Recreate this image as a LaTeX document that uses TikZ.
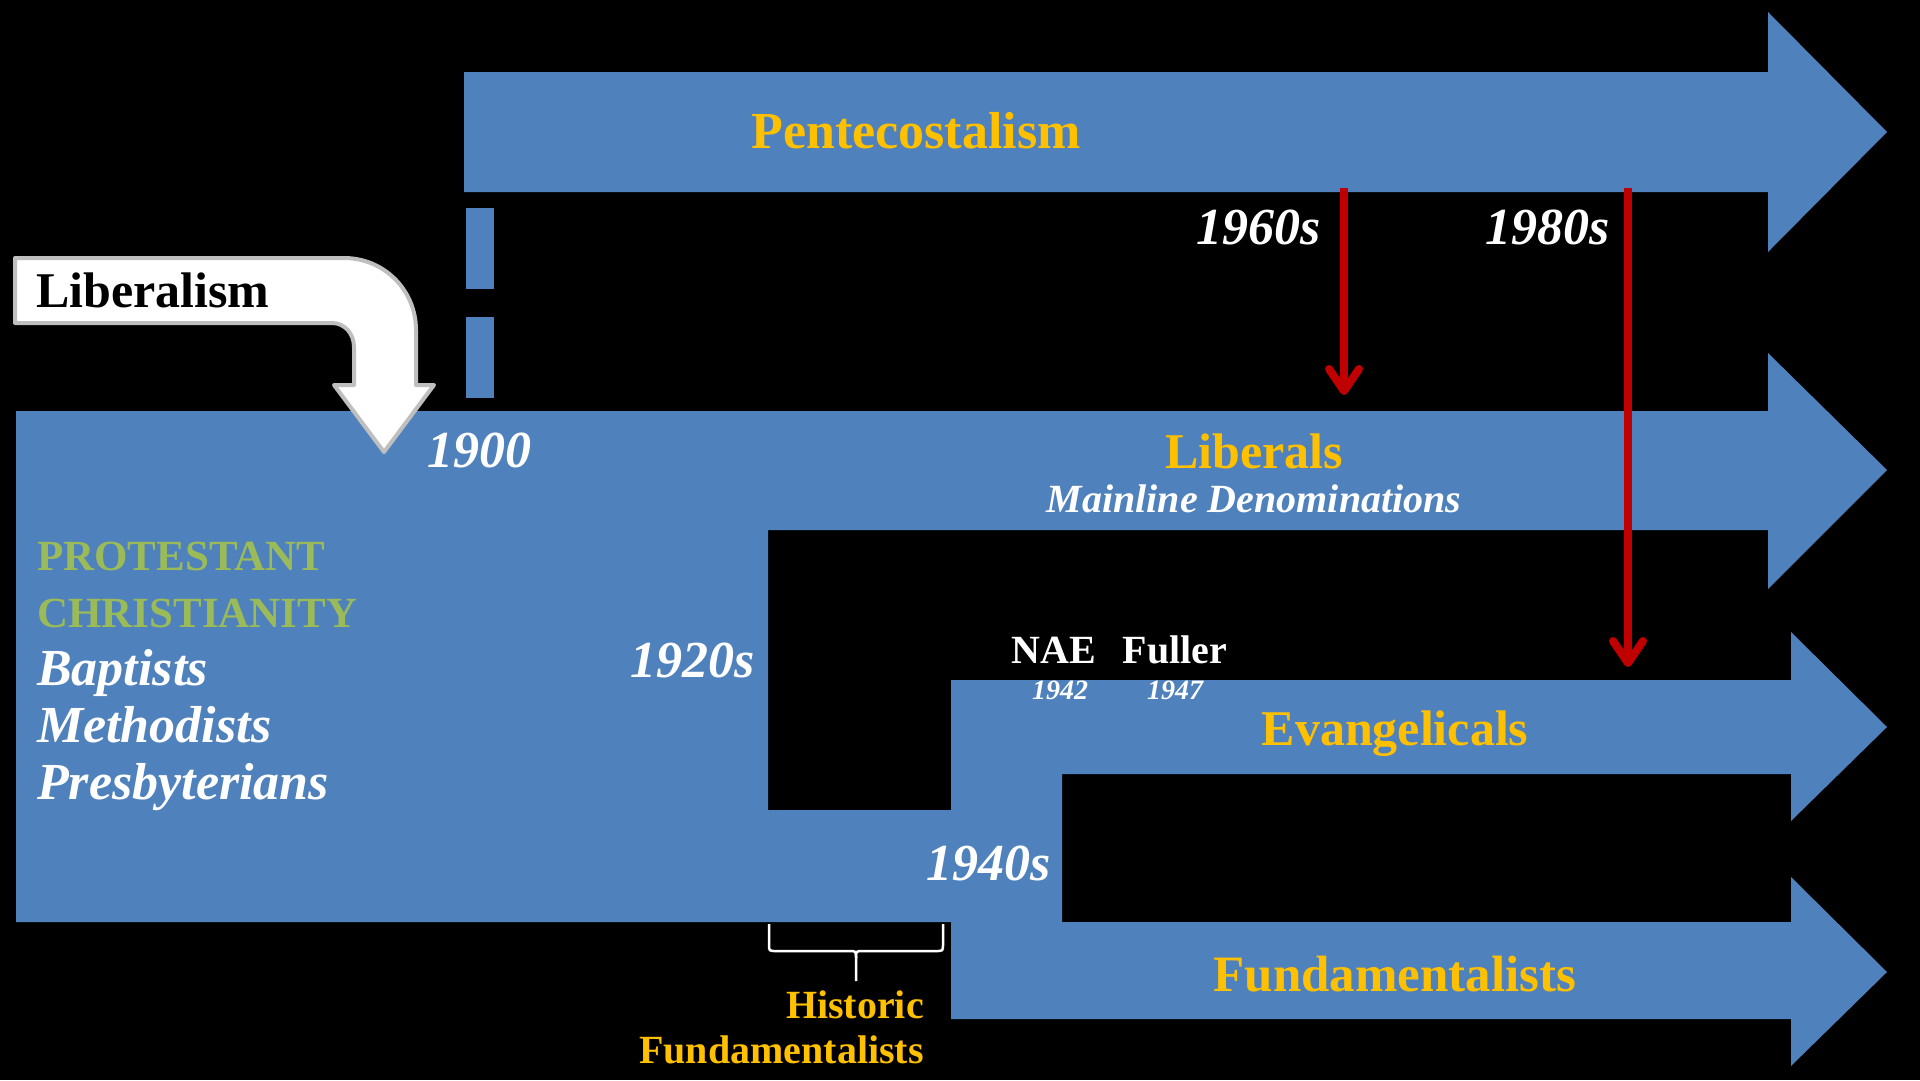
\documentclass[tikz,border=0pt]{standalone}
\usepackage{fontspec}
\setmainfont{Liberation Serif}
\usetikzlibrary{arrows.meta}
\definecolor{pblue}{HTML}{4F81BD}
\definecolor{porange}{HTML}{FFC000}
\definecolor{pgreen}{HTML}{9BBB59}
\definecolor{pred}{HTML}{C00000}
\definecolor{pgray}{HTML}{BFBFBF}
\newcommand{\fsz}[1]{\fontsize{#1}{#1}\selectfont}
\begin{document}
\begin{tikzpicture}[x=1pt,y=-1pt,
  txt/.style={inner sep=0pt, anchor=base},
  bfb/.style={txt, font=\bfseries\fsz{#1}},
  bi/.style={txt, font=\bfseries\itshape\fsz{#1}},
  band/.style={fill=pblue, draw=none},
  redarrow/.style={draw=pred, line width=8pt, -{Straight Barb[length=22pt,width=30pt,round]}},
  bracestyle/.style={draw=white, line width=2.5pt, line join=round},
  bentarrow/.style={fill=white, draw=pgray, line width=4pt, line join=round},
]
\useasboundingbox (0,0) rectangle (1920,1080);
\fill[black] (0,0) rectangle (1920,1080);

% Pentecostalism arrow
\path[band] (464,72) -- (1768,72) -- (1768,12) -- (1887,132) -- (1768,252) -- (1768,192) -- (464,192) -- cycle;

% blue dashed link
\coordinate (dashA) at (480,208);
\coordinate (dashB) at (480,398);
\draw[pblue, line width=28pt, dash pattern=on 81pt off 28pt] (dashA) -- (dashB);

% main trunk with Liberals, Evangelicals, Fundamentalists arrows
\path[band] (16,411) -- (1768,411) -- (1768,353) -- (1887,470) -- (1768,589) -- (1768,530)
  -- (768,530) -- (768,810) -- (951,810) -- (951,680) -- (1791,680) -- (1791,632)
  -- (1887,727) -- (1791,821) -- (1791,774) -- (1062,774) -- (1062,922) -- (1791,922)
  -- (1791,877) -- (1887,972) -- (1791,1066) -- (1791,1019) -- (951,1019) -- (951,922)
  -- (16,922) -- cycle;

% Liberalism bent arrow
\draw[bentarrow] (15,258) -- (344,258) .. controls (384,258) and (416,290) .. (416,330)
  -- (416,385) -- (434,385) -- (384,452) -- (334,385) -- (354,385) -- (354,347)
  .. controls (354,334) and (345,323) .. (332,323) -- (15,323) -- cycle;

% texts
\node[bfb=52, text=porange] (pent) at (916,148) {Pentecostalism};
\node[bfb=50, text=black, anchor=base west] (libism) at (36,307) {Liberalism};
\node[bi=52, text=white] (y1900) at (479,467) {1900};
\node[bfb=50, text=porange] (liberals) at (1254,468) {Liberals};
\node[bi=40, text=white] (mainline) at (1254,512) {Mainline Denominations};
\node[bfb=43, text=pgreen, anchor=base west] (prot) at (37,570) {PROTESTANT};
\node[bfb=43, text=pgreen, anchor=base west] (christ) at (37,627) {CHRISTIANITY};
\node[bi=52, text=white, anchor=base west] (bap) at (37,685) {Baptists};
\node[bi=52, text=white, anchor=base west] (meth) at (37,742) {Methodists};
\node[bi=52, text=white, anchor=base west] (presb) at (37,799) {Presbyterians};
\node[bi=52, text=white] (y1920) at (693,677) {1920s};
\node[bi=52, text=white] (y1940) at (989,880) {1940s};
\node[bi=52, text=white] (y1960) at (1259,244) {1960s};
\node[bi=52, text=white] (y1980) at (1548,244) {1980s};
\node[bfb=40, text=white] (nae) at (1054,663) {NAE};
\node[bfb=40, text=white] (fuller) at (1175,663) {Fuller};
\node[bi=28, text=white] (y1942) at (1060,699) {1942};
\node[bi=28, text=white] (y1947) at (1175,699) {1947};
\node[bfb=50, text=porange] (evang) at (1395,745) {Evangelicals};
\node[bfb=51, text=porange] (fund) at (1395,991) {Fundamentalists};
\node[bfb=40, text=porange, anchor=base east] (hist1) at (924,1018) {Historic};
\node[bfb=40, text=porange, anchor=base east] (hist2) at (924,1063) {Fundamentalists};

% brace
\draw[bracestyle] (769,924) -- (769,944) .. controls (769,951) .. (776,951) -- (849,951)
  .. controls (856,951) .. (856,958) -- (856,981);
\draw[bracestyle] (943,924) -- (943,944) .. controls (943,951) .. (936,951) -- (863,951)
  .. controls (856,951) .. (856,958);

% red arrows
\coordinate (r1s) at (1344,188);
\coordinate (r1e) at (1344,395);
\coordinate (r2s) at (1628,188);
\coordinate (r2e) at (1628,667);
\draw[redarrow] (r1s) -- (r1e);
\draw[redarrow] (r2s) -- (r2e);
\end{tikzpicture}
\end{document}
